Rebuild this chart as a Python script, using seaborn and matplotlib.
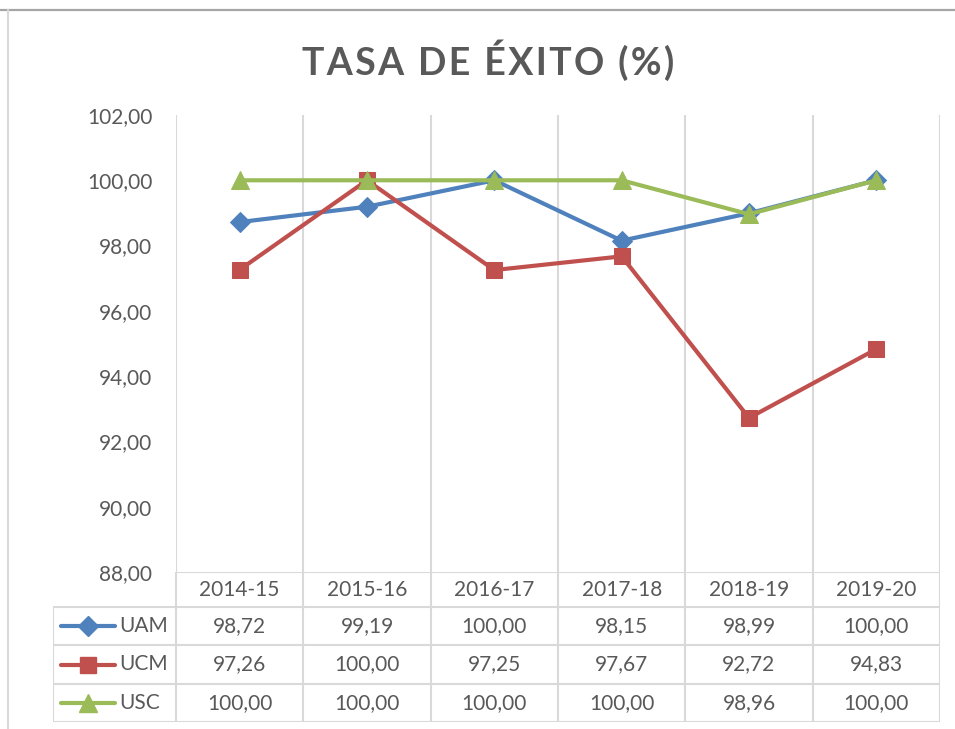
import pandas as pd
import matplotlib
matplotlib.use("Agg")
import matplotlib.pyplot as plt
import seaborn as sns
from matplotlib.lines import Line2D

# data
years = ["2014-15", "2015-16", "2016-17", "2017-18", "2018-19", "2019-20"]
uam = [98.72, 99.19, 100.00, 98.15, 98.99, 100.00]
ucm = [97.26, 100.00, 97.25, 97.67, 92.72, 94.83]
usc = [100.00, 100.00, 100.00, 100.00, 98.96, 100.00]
series_names = ["UAM", "UCM", "USC"]
y_ticks = [88, 90, 92, 94, 96, 98, 100, 102]
title = "TASA DE ÉXITO (%)"

colors = {"UAM": "#4F81BD", "UCM": "#C0504D", "USC": "#9BBB59"}
markers = {"UAM": "D", "UCM": "s", "USC": "^"}
msizes = {"UAM": 10, "UCM": 11, "USC": 13}
grid_c = "#D9D9D9"
text_c = "#595959"

sns.set_style("white")
plt.rcParams["font.family"] = ["Lato", "DejaVu Sans"]


def fmt(v):
    return f"{v:.2f}".replace(".", ",")


df = pd.DataFrame({"year": years, "UAM": uam, "UCM": ucm, "USC": usc})
long = df.melt(id_vars="year", var_name="uni", value_name="val")

W, H = 955, 729
fig = plt.figure(figsize=(W / 100, H / 100), dpi=100)

# pixel layout
px_l, px_r, px_t, px_b = 176, 940, 115, 572
ax = fig.add_axes([px_l / W, 1 - px_b / H, (px_r - px_l) / W, (px_b - px_t) / H])

for name in series_names:
    sub = long[long["uni"] == name]
    sns.lineplot(data=sub, x="year", y="val", ax=ax, color=colors[name],
                 marker=markers[name], markersize=msizes[name],
                 markeredgecolor=colors[name], linewidth=3.0,
                 sort=False, legend=False)

ax.set_xlim(-0.5, len(years) - 0.5)
ax.set_ylim(88, 102)
ax.set_yticks(y_ticks)
ax.set_yticklabels([fmt(t) for t in y_ticks])
ax.tick_params(axis="y", length=0, pad=17, labelsize=15, labelcolor=text_c)
ax.set_xticks([])
ax.set_xlabel("")
ax.set_ylabel("")
for s in ax.spines.values():
    s.set_visible(False)
for i in range(len(years) + 1):
    ax.axvline(i - 0.5, color=grid_c, lw=1.5, zorder=0)

# data table under the plot
unit = (px_r - px_l) / len(years)
tb_l, tb_b = 53, 722
tax = fig.add_axes([tb_l / W, 1 - tb_b / H, (px_r - tb_l) / W, (tb_b - px_b) / H])
x0 = -0.5 - (px_l - tb_l) / unit
tax.set_xlim(x0, len(years) - 0.5)
tax.set_ylim(tb_b, px_b)
tax.axis("off")


def px2x(p):
    return -0.5 + (p - px_l) / unit


row_lines = [572, 607, 645, 684, 722]
tax.plot([-0.5, len(years) - 0.5], [row_lines[0]] * 2, color=grid_c, lw=1.5)
for yl in row_lines[1:]:
    tax.plot([x0, len(years) - 0.5], [yl] * 2, color=grid_c, lw=1.5)
tax.plot([x0, x0], [row_lines[1], row_lines[-1]], color=grid_c, lw=1.5)
for i in range(len(years) + 1):
    tax.plot([i - 0.5, i - 0.5], [row_lines[0], row_lines[-1]], color=grid_c, lw=1.5)

hy = (row_lines[0] + row_lines[1]) / 2
for i, yr in enumerate(years):
    tax.text(i, hy, yr, ha="center", va="center", fontsize=15, color=text_c)

vals = {"UAM": uam, "UCM": ucm, "USC": usc}
for r, name in enumerate(series_names):
    cy = (row_lines[r + 1] + row_lines[r + 2]) / 2
    tax.plot([px2x(61), px2x(115)], [cy, cy], color=colors[name], lw=3.0,
             solid_capstyle="round")
    tax.plot([px2x(88)], [cy], marker=markers[name], markersize=msizes[name],
             color=colors[name], markeredgecolor=colors[name])
    tax.text(px2x(119), cy, name, ha="left", va="center", fontsize=15, color=text_c)
    for i, v in enumerate(vals[name]):
        tax.text(i, cy, fmt(v), ha="center", va="center", fontsize=15, color=text_c)

# title, letter-spaced like the original
spaced = "\u200a".join(title)
fig.text(488 / W, 1 - 60 / H, spaced, ha="center", va="center",
         fontsize=27, fontweight="bold", color=text_c,
         family=["Lato", "DejaVu Sans"])

# chart frame edges visible in the crop
fig.add_artist(Line2D([0, 1], [1 - 9.5 / H] * 2, transform=fig.transFigure,
                      color="#A6A6A6", lw=1.6))
fig.add_artist(Line2D([8 / W] * 2, [0, 1 - 10 / H], transform=fig.transFigure,
                      color=grid_c, lw=1.5))

fig.savefig("out.png", dpi=100)
